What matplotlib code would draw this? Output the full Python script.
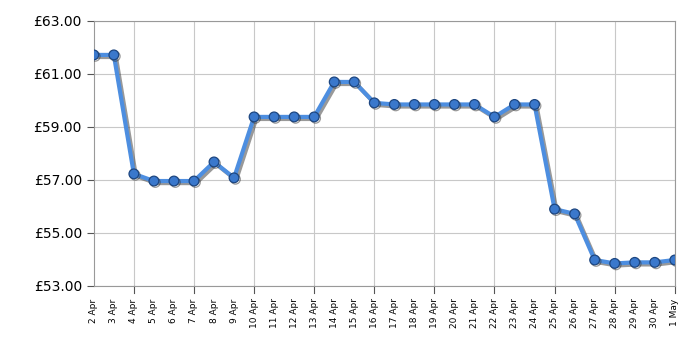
import matplotlib
matplotlib.use("Agg")
import matplotlib.pyplot as plt
import matplotlib.patheffects as pe
import numpy as np

dates = ["2 Apr", "3 Apr", "4 Apr", "5 Apr", "6 Apr", "7 Apr", "8 Apr", "9 Apr",
         "10 Apr", "11 Apr", "12 Apr", "13 Apr", "14 Apr", "15 Apr", "16 Apr",
         "17 Apr", "18 Apr", "19 Apr", "20 Apr", "21 Apr", "22 Apr", "23 Apr",
         "24 Apr", "25 Apr", "26 Apr", "27 Apr", "28 Apr", "29 Apr", "30 Apr", "1 May"]
prices = [61.72, 61.72, 57.23, 56.96, 56.96, 56.96, 57.68, 57.08,
          59.38, 59.38, 59.38, 59.38, 60.70, 60.70, 59.91,
          59.85, 59.85, 59.85, 59.85, 59.85, 59.38, 59.85,
          59.85, 55.90, 55.72, 53.98, 53.85, 53.89, 53.89, 53.98]
y_ticks = [53, 55, 57, 59, 61, 63]

x = np.arange(len(dates))

fig = plt.figure(figsize=(7, 3.5), dpi=100)
ax = fig.add_axes([0.134, 0.183, 0.830, 0.757])

shadow = [pe.SimpleLineShadow(offset=(1.5, -1.5), shadow_color="#555555", alpha=0.6), pe.Normal()]
ax.plot(x, prices, color="#4d8ee0", linewidth=3, zorder=3, path_effects=shadow)
ax.plot(x, prices, linestyle="none", marker="o", markersize=7,
        markerfacecolor="#3a78cc", markeredgecolor="#1d4680", markeredgewidth=0.9, zorder=4,
        path_effects=[pe.SimpleLineShadow(offset=(1, -1), shadow_color="#333333", alpha=0.5), pe.Normal()])

ax.set_xlim(0, len(dates) - 1)
ax.set_ylim(53, 63)
ax.set_yticks(y_ticks)
ax.set_yticklabels([f"£{v:.2f}" for v in y_ticks], fontsize=10)
ax.set_xticks(x)
ax.set_xticklabels(dates, rotation=90, fontsize=6.5)

# grid lines only every third day
for i in range(2, len(dates), 3):
    ax.axvline(i, color="#c8c8c8", linewidth=0.8, zorder=1)
ax.yaxis.grid(True, color="#c8c8c8", linewidth=0.8, zorder=1)

for s in ax.spines.values():
    s.set_color("#999999")
ax.tick_params(axis="y", length=5, color="#555555")
ax.tick_params(axis="x", length=0, pad=9)
for i in range(2, len(dates), 3):
    ax.plot([i, i], [0, -0.025], transform=ax.get_xaxis_transform(), color="#555555",
            linewidth=0.8, clip_on=False)

fig.savefig("out.png", dpi=100)
